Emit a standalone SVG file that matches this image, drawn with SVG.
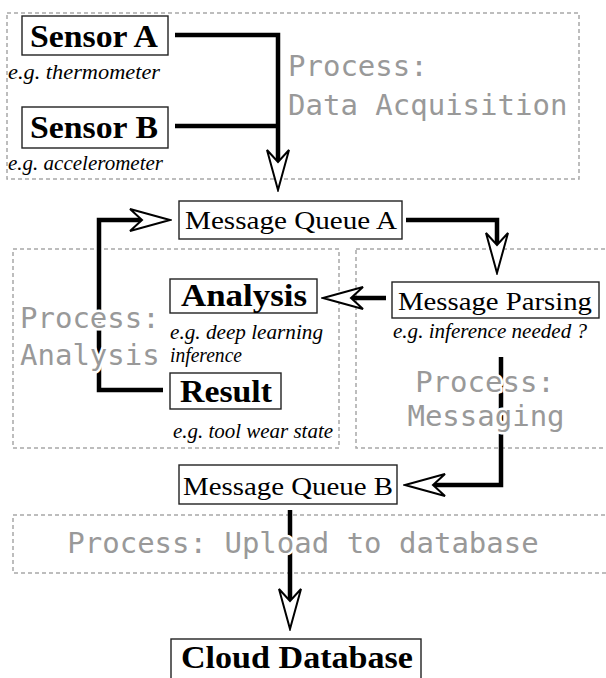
<svg xmlns="http://www.w3.org/2000/svg" width="606" height="678" viewBox="0 0 606 678">
<style>
.proc{fill:none;stroke:#a8a8a8;stroke-width:1.5;stroke-dasharray:4 3}
.box{fill:#fff;stroke:#222;stroke-width:1.4}
.bold{font-family:"Liberation Serif",serif;font-weight:bold;font-size:31px;fill:#000}
.reg{font-family:"Liberation Serif",serif;font-size:26px;fill:#000}
.it{font-family:"Liberation Serif",serif;font-style:italic;font-size:22px;fill:#000}
.lbl{font-family:"DejaVu Sans Mono",monospace;font-size:29px;fill:#999;stroke:#fff;stroke-width:5;paint-order:stroke;stroke-linejoin:round}
.conn{fill:none;stroke:#000;stroke-width:4.5;stroke-linejoin:miter}
</style>
<defs>
<marker id="ah" viewBox="-2 -13 44 26" refX="12" refY="0" markerWidth="44" markerHeight="26" markerUnits="userSpaceOnUse" orient="auto">
<path d="M40,0 L0,-11 L12,0 L0,11 Z" fill="#fff" stroke="#000" stroke-width="2"/>
</marker>
</defs>
<g id="process-boxes">
<rect class="proc" x="7" y="13" width="572" height="166"/>
<rect class="proc" x="13" y="249" width="326" height="199"/>
<rect class="proc" x="356" y="249" width="262" height="199"/>
<rect class="proc" x="13" y="515" width="600" height="58"/>
</g>
<g id="connectors">
<path class="conn" d="M175,35 H278 V162" marker-end="url(#ah)"/>
<path class="conn" d="M175,126 H278"/>
<path class="conn" d="M406,220 H497 V245" marker-end="url(#ah)"/>
<path class="conn" d="M386,298 H351" marker-end="url(#ah)"/>
<path class="conn" d="M163,390 H99 V220 H142" marker-end="url(#ah)"/>
<path class="conn" d="M501,357 V485 H433" marker-end="url(#ah)"/>
<path class="conn" d="M290,510 V601" marker-end="url(#ah)"/>
</g>
<g id="labels">
<text class="lbl" x="288" y="76">Process:</text>
<text class="lbl" x="288" y="115">Data Acquisition</text>
<text class="lbl" x="20" y="328">Process:</text>
<text class="lbl" x="20" y="365">Analysis</text>
<text class="lbl" x="485" y="392" text-anchor="middle">Process:</text>
<text class="lbl" x="486" y="426" text-anchor="middle">Messaging</text>
<text class="lbl" x="303" y="553" text-anchor="middle">Process: Upload to database</text>
</g>
<g id="sensor-a">
<rect class="box" x="22" y="16" width="146" height="39"/>
<text class="bold" x="30" y="47" textLength="128" lengthAdjust="spacingAndGlyphs">Sensor A</text>
<text class="it" x="8" y="79" textLength="152" lengthAdjust="spacingAndGlyphs">e.g. thermometer</text>
</g>
<g id="sensor-b">
<rect class="box" x="22" y="107" width="146" height="41"/>
<text class="bold" x="30" y="138" textLength="128" lengthAdjust="spacingAndGlyphs">Sensor B</text>
<text class="it" x="8" y="170" textLength="155" lengthAdjust="spacingAndGlyphs">e.g. accelerometer</text>
</g>
<g id="message-queue-a">
<rect class="box" x="179" y="201" width="223" height="38"/>
<text class="reg" x="185" y="229" textLength="212" lengthAdjust="spacingAndGlyphs">Message Queue A</text>
</g>
<g id="message-parsing">
<rect class="box" x="392" y="282" width="207" height="36"/>
<text class="reg" x="398" y="310" textLength="194" lengthAdjust="spacingAndGlyphs">Message Parsing</text>
<text class="it" x="393" y="338" textLength="194" lengthAdjust="spacingAndGlyphs">e.g. inference needed ?</text>
</g>
<g id="analysis">
<rect class="box" x="170" y="279" width="147" height="34"/>
<text class="bold" x="181" y="306" textLength="126" lengthAdjust="spacingAndGlyphs">Analysis</text>
<text class="it" x="170" y="339" textLength="153" lengthAdjust="spacingAndGlyphs">e.g. deep learning</text>
<text class="it" x="170" y="362" textLength="72" lengthAdjust="spacingAndGlyphs">inference</text>
</g>
<g id="result">
<rect class="box" x="170" y="373" width="111" height="36"/>
<text class="bold" x="180" y="402" textLength="92" lengthAdjust="spacingAndGlyphs">Result</text>
<text class="it" x="173" y="438" textLength="160" lengthAdjust="spacingAndGlyphs">e.g. tool wear state</text>
</g>
<g id="message-queue-b">
<rect class="box" x="179" y="465" width="218" height="39"/>
<text class="reg" x="183" y="495" textLength="210" lengthAdjust="spacingAndGlyphs">Message Queue B</text>
</g>
<g id="cloud-database">
<rect class="box" x="171" y="639" width="250" height="50"/>
<text class="bold" x="181" y="668" textLength="232" lengthAdjust="spacingAndGlyphs">Cloud Database</text>
</g>
</svg>
